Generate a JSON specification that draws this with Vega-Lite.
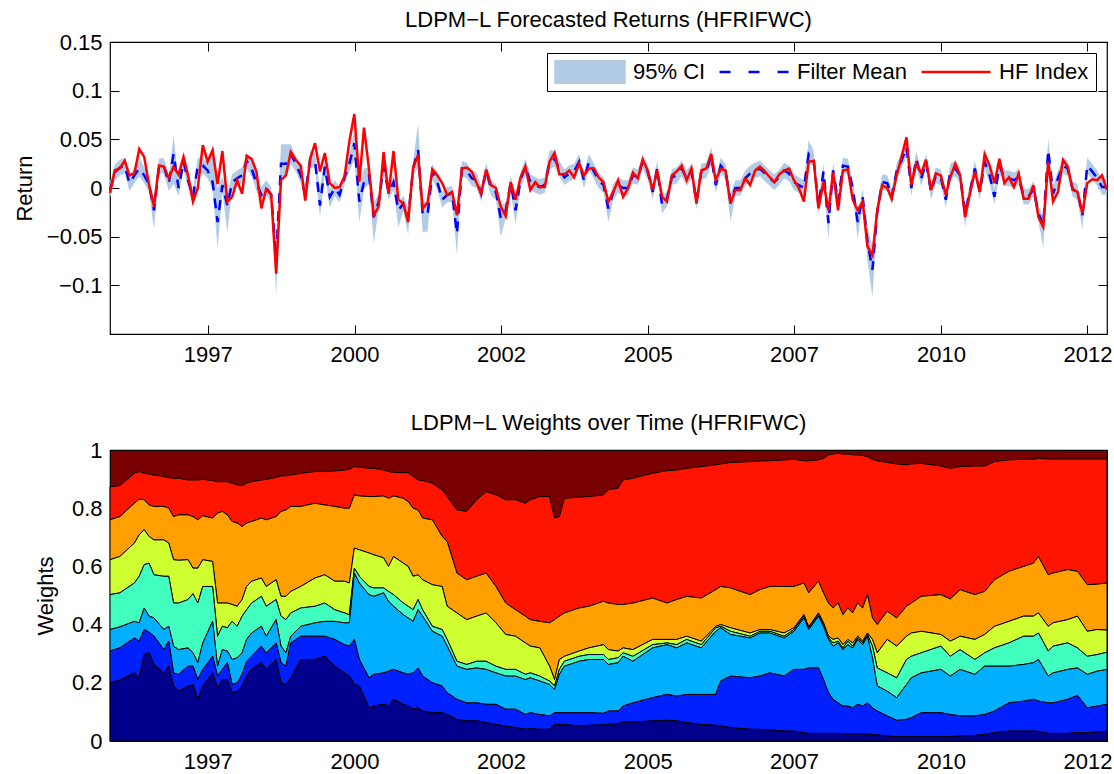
{
  "$schema": "https://vega.github.io/schema/vega-lite/v6.json",
  "padding": {"left": 12, "top": 8, "right": 9, "bottom": 5},
  "spacing": 45,
  "config": {
    "font": "Liberation Sans",
    "view": {"stroke": "black", "strokeWidth": 1.2},
    "axis": {
      "labelFont": "Liberation Sans", "labelFontSize": 22, "labelColor": "black",
      "titleFont": "Liberation Sans", "titleFontSize": 22, "titleFontWeight": "normal", "titleColor": "black",
      "grid": false, "domain": false, "tickColor": "black", "tickWidth": 1,
      "labelFlush": false, "labelOverlap": false
    },
    "title": {"font": "Liberation Sans", "fontSize": 22, "fontWeight": "normal", "color": "black", "baseline": "alphabetic"}
  },
  "datasets": {
    "ret": [
      {"d":"1995-10-31","m":-0.002,"r":-0.005,"lo":-0.01,"hi":0.006},
      {"d":"1995-11-30","m":0.016,"r":0.018,"lo":0.008,"hi":0.024},
      {"d":"1995-12-31","m":0.021,"r":0.02,"lo":0.013,"hi":0.029},
      {"d":"1996-01-31","m":0.023,"r":0.028,"lo":0.015,"hi":0.031},
      {"d":"1996-02-29","m":0.005,"r":0.013,"lo":-0.003,"hi":0.013},
      {"d":"1996-03-31","m":0.013,"r":0.015,"lo":0.005,"hi":0.021},
      {"d":"1996-04-30","m":0.02,"r":0.04,"lo":0.012,"hi":0.032},
      {"d":"1996-05-31","m":0.013,"r":0.032,"lo":0.005,"hi":0.021},
      {"d":"1996-06-30","m":0.004,"r":0.003,"lo":-0.004,"hi":0.012},
      {"d":"1996-07-31","m":-0.023,"r":-0.019,"lo":-0.042,"hi":-0.012},
      {"d":"1996-08-31","m":0.022,"r":0.023,"lo":0.014,"hi":0.03},
      {"d":"1996-09-30","m":0.023,"r":0.022,"lo":0.015,"hi":0.031},
      {"d":"1996-10-31","m":0.005,"r":0.01,"lo":-0.003,"hi":0.013},
      {"d":"1996-11-30","m":0.035,"r":0.022,"lo":0.004,"hi":0.054},
      {"d":"1996-12-31","m":0,"r":0.014,"lo":-0.008,"hi":0.008},
      {"d":"1997-01-31","m":0.027,"r":0.032,"lo":0.019,"hi":0.035},
      {"d":"1997-02-28","m":0.008,"r":0.013,"lo":0,"hi":0.016},
      {"d":"1997-03-31","m":-0.009,"r":-0.014,"lo":-0.017,"hi":-0.001},
      {"d":"1997-04-30","m":0.023,"r":0,"lo":0.015,"hi":0.031},
      {"d":"1997-05-31","m":0.023,"r":0.044,"lo":0.015,"hi":0.031},
      {"d":"1997-06-30","m":0.018,"r":0.027,"lo":0.01,"hi":0.026},
      {"d":"1997-07-31","m":0.006,"r":0.039,"lo":-0.002,"hi":0.04},
      {"d":"1997-08-31","m":-0.035,"r":0.004,"lo":-0.062,"hi":0},
      {"d":"1997-09-30","m":0.003,"r":0.038,"lo":-0.005,"hi":0.011},
      {"d":"1997-10-31","m":-0.018,"r":-0.014,"lo":-0.045,"hi":-0.005},
      {"d":"1997-11-30","m":0.006,"r":-0.009,"lo":-0.002,"hi":0.014},
      {"d":"1997-12-31","m":0.01,"r":0.008,"lo":0.002,"hi":0.018},
      {"d":"1998-01-31","m":0.013,"r":-0.006,"lo":0.005,"hi":0.021},
      {"d":"1998-02-28","m":0.028,"r":0.033,"lo":0.02,"hi":0.036},
      {"d":"1998-03-31","m":0.02,"r":0.03,"lo":0.012,"hi":0.028},
      {"d":"1998-04-30","m":0.005,"r":0.017,"lo":-0.003,"hi":0.013},
      {"d":"1998-05-31","m":-0.007,"r":-0.021,"lo":-0.015,"hi":0.001},
      {"d":"1998-06-30","m":0,"r":-0.001,"lo":-0.008,"hi":0.008},
      {"d":"1998-07-31","m":-0.007,"r":-0.007,"lo":-0.015,"hi":0.001},
      {"d":"1998-08-31","m":-0.072,"r":-0.088,"lo":-0.11,"hi":-0.06},
      {"d":"1998-09-30","m":0.025,"r":0.008,"lo":0.012,"hi":0.045},
      {"d":"1998-10-31","m":0.025,"r":0.013,"lo":0.012,"hi":0.045},
      {"d":"1998-11-30","m":0.035,"r":0.037,"lo":0.025,"hi":0.045},
      {"d":"1998-12-31","m":0.025,"r":0.029,"lo":0.017,"hi":0.033},
      {"d":"1999-01-31","m":0.013,"r":0.023,"lo":0.005,"hi":0.021},
      {"d":"1999-02-28","m":-0.007,"r":-0.013,"lo":-0.015,"hi":0.001},
      {"d":"1999-03-31","m":0.03,"r":0.03,"lo":0.022,"hi":0.038},
      {"d":"1999-04-30","m":0.028,"r":0.046,"lo":0.02,"hi":0.036},
      {"d":"1999-05-31","m":-0.018,"r":0.017,"lo":-0.03,"hi":0},
      {"d":"1999-06-30","m":0.022,"r":0.036,"lo":0.014,"hi":0.03},
      {"d":"1999-07-31","m":-0.009,"r":0.005,"lo":-0.02,"hi":-0.001},
      {"d":"1999-08-31","m":0,"r":0,"lo":-0.008,"hi":0.008},
      {"d":"1999-09-30","m":-0.007,"r":0.001,"lo":-0.015,"hi":0.001},
      {"d":"1999-10-31","m":0.011,"r":0.012,"lo":0.003,"hi":0.019},
      {"d":"1999-11-30","m":0.025,"r":0.048,"lo":0.017,"hi":0.033},
      {"d":"1999-12-31","m":0.046,"r":0.076,"lo":0.03,"hi":0.06},
      {"d":"2000-01-31","m":-0.014,"r":0.006,"lo":-0.035,"hi":0},
      {"d":"2000-02-29","m":0.006,"r":0.062,"lo":-0.002,"hi":0.02},
      {"d":"2000-03-31","m":0.013,"r":0.02,"lo":0.005,"hi":0.021},
      {"d":"2000-04-30","m":-0.03,"r":-0.028,"lo":-0.057,"hi":-0.015},
      {"d":"2000-05-31","m":-0.014,"r":-0.019,"lo":-0.022,"hi":-0.006},
      {"d":"2000-06-30","m":0.022,"r":0.037,"lo":0.014,"hi":0.03},
      {"d":"2000-07-31","m":-0.004,"r":-0.006,"lo":-0.012,"hi":0.004},
      {"d":"2000-08-31","m":0.006,"r":0.038,"lo":-0.002,"hi":0.014},
      {"d":"2000-09-30","m":-0.023,"r":-0.012,"lo":-0.04,"hi":-0.015},
      {"d":"2000-10-31","m":-0.016,"r":-0.016,"lo":-0.024,"hi":-0.008},
      {"d":"2000-11-30","m":-0.031,"r":-0.035,"lo":-0.048,"hi":-0.02},
      {"d":"2000-12-31","m":0.02,"r":0.021,"lo":0.012,"hi":0.028},
      {"d":"2001-01-31","m":0.039,"r":0.034,"lo":0.02,"hi":0.066},
      {"d":"2001-02-28","m":-0.026,"r":-0.021,"lo":-0.045,"hi":-0.012},
      {"d":"2001-03-31","m":-0.028,"r":-0.015,"lo":-0.045,"hi":-0.015},
      {"d":"2001-04-30","m":0.017,"r":0.019,"lo":0.009,"hi":0.025},
      {"d":"2001-05-31","m":0.006,"r":0.013,"lo":-0.002,"hi":0.014},
      {"d":"2001-06-30","m":-0.012,"r":0.005,"lo":-0.02,"hi":-0.004},
      {"d":"2001-07-31","m":-0.007,"r":-0.007,"lo":-0.015,"hi":0.001},
      {"d":"2001-08-31","m":-0.006,"r":-0.004,"lo":-0.014,"hi":0.002},
      {"d":"2001-09-30","m":-0.047,"r":-0.028,"lo":-0.069,"hi":-0.03},
      {"d":"2001-10-31","m":0.02,"r":0.02,"lo":0.012,"hi":0.028},
      {"d":"2001-11-30","m":0.018,"r":0.021,"lo":0.01,"hi":0.026},
      {"d":"2001-12-31","m":0.01,"r":0.017,"lo":0.002,"hi":0.018},
      {"d":"2002-01-31","m":0.008,"r":0.005,"lo":0,"hi":0.016},
      {"d":"2002-02-28","m":-0.006,"r":-0.006,"lo":-0.014,"hi":0.002},
      {"d":"2002-03-31","m":0.018,"r":0.019,"lo":0.01,"hi":0.026},
      {"d":"2002-04-30","m":0,"r":0.003,"lo":-0.008,"hi":0.008},
      {"d":"2002-05-31","m":-0.004,"r":0,"lo":-0.012,"hi":0.004},
      {"d":"2002-06-30","m":-0.031,"r":-0.019,"lo":-0.05,"hi":-0.018},
      {"d":"2002-07-31","m":-0.023,"r":-0.029,"lo":-0.031,"hi":-0.015},
      {"d":"2002-08-31","m":0.005,"r":0.006,"lo":-0.003,"hi":0.013},
      {"d":"2002-09-30","m":-0.023,"r":-0.012,"lo":-0.038,"hi":-0.012},
      {"d":"2002-10-31","m":0.008,"r":0.011,"lo":0,"hi":0.016},
      {"d":"2002-11-30","m":0.022,"r":0.022,"lo":0.012,"hi":0.03},
      {"d":"2002-12-31","m":0.006,"r":-0.002,"lo":-0.002,"hi":0.014},
      {"d":"2003-01-31","m":0.003,"r":0.006,"lo":-0.005,"hi":0.011},
      {"d":"2003-02-28","m":0.001,"r":0.001,"lo":-0.007,"hi":0.009},
      {"d":"2003-03-31","m":0.003,"r":0.001,"lo":-0.005,"hi":0.011},
      {"d":"2003-04-30","m":0.027,"r":0.027,"lo":0.019,"hi":0.039},
      {"d":"2003-05-31","m":0.03,"r":0.036,"lo":0.022,"hi":0.038},
      {"d":"2003-06-30","m":0.02,"r":0.014,"lo":0.012,"hi":0.028},
      {"d":"2003-07-31","m":0.011,"r":0.014,"lo":0.003,"hi":0.019},
      {"d":"2003-08-31","m":0.015,"r":0.018,"lo":0.007,"hi":0.023},
      {"d":"2003-09-30","m":0.017,"r":0.011,"lo":0.009,"hi":0.025},
      {"d":"2003-10-31","m":0.027,"r":0.025,"lo":0.019,"hi":0.035},
      {"d":"2003-11-30","m":0.008,"r":0.013,"lo":0,"hi":0.016},
      {"d":"2003-12-31","m":0.027,"r":0.02,"lo":0.019,"hi":0.035},
      {"d":"2004-01-31","m":0.017,"r":0.02,"lo":0.009,"hi":0.025},
      {"d":"2004-02-29","m":0.008,"r":0.011,"lo":0,"hi":0.016},
      {"d":"2004-03-31","m":0.003,"r":0.006,"lo":-0.005,"hi":0.011},
      {"d":"2004-04-30","m":-0.021,"r":-0.014,"lo":-0.035,"hi":-0.013},
      {"d":"2004-05-31","m":-0.004,"r":-0.004,"lo":-0.012,"hi":0.004},
      {"d":"2004-06-30","m":0.003,"r":0.008,"lo":-0.005,"hi":0.011},
      {"d":"2004-07-31","m":0,"r":-0.009,"lo":-0.008,"hi":0.008},
      {"d":"2004-08-31","m":0,"r":0,"lo":-0.008,"hi":0.008},
      {"d":"2004-09-30","m":0.013,"r":0.016,"lo":0.005,"hi":0.021},
      {"d":"2004-10-31","m":0.011,"r":0.01,"lo":0.003,"hi":0.019},
      {"d":"2004-11-30","m":0.027,"r":0.029,"lo":0.019,"hi":0.035},
      {"d":"2004-12-31","m":0.017,"r":0.018,"lo":0.009,"hi":0.025},
      {"d":"2005-01-31","m":-0.004,"r":-0.002,"lo":-0.012,"hi":0.004},
      {"d":"2005-02-28","m":0.02,"r":0.018,"lo":0.012,"hi":0.028},
      {"d":"2005-03-31","m":-0.018,"r":-0.009,"lo":-0.026,"hi":-0.01},
      {"d":"2005-04-30","m":-0.011,"r":-0.014,"lo":-0.019,"hi":-0.003},
      {"d":"2005-05-31","m":0.011,"r":0.013,"lo":0.003,"hi":0.019},
      {"d":"2005-06-30","m":0.013,"r":0.017,"lo":0.005,"hi":0.021},
      {"d":"2005-07-31","m":0.02,"r":0.023,"lo":0.012,"hi":0.028},
      {"d":"2005-08-31","m":0.01,"r":0.008,"lo":0.002,"hi":0.018},
      {"d":"2005-09-30","m":0.017,"r":0.02,"lo":0.009,"hi":0.025},
      {"d":"2005-10-31","m":-0.014,"r":-0.016,"lo":-0.022,"hi":-0.006},
      {"d":"2005-11-30","m":0.017,"r":0.018,"lo":0.009,"hi":0.025},
      {"d":"2005-12-31","m":0.018,"r":0.02,"lo":0.01,"hi":0.026},
      {"d":"2006-01-31","m":0.032,"r":0.035,"lo":0.024,"hi":0.042},
      {"d":"2006-02-28","m":0.003,"r":0.008,"lo":-0.005,"hi":0.011},
      {"d":"2006-03-31","m":0.023,"r":0.02,"lo":0.015,"hi":0.031},
      {"d":"2006-04-30","m":0.017,"r":0.018,"lo":0.009,"hi":0.025},
      {"d":"2006-05-31","m":-0.014,"r":-0.016,"lo":-0.035,"hi":-0.006},
      {"d":"2006-06-30","m":0,"r":-0.002,"lo":-0.008,"hi":0.008},
      {"d":"2006-07-31","m":0,"r":-0.002,"lo":-0.008,"hi":0.008},
      {"d":"2006-08-31","m":0.01,"r":0.01,"lo":0.002,"hi":0.018},
      {"d":"2006-09-30","m":0.015,"r":0.003,"lo":0.007,"hi":0.023},
      {"d":"2006-10-31","m":0.018,"r":0.018,"lo":0.01,"hi":0.026},
      {"d":"2006-11-30","m":0.02,"r":0.022,"lo":0.012,"hi":0.028},
      {"d":"2006-12-31","m":0.015,"r":0.017,"lo":0.007,"hi":0.023},
      {"d":"2007-01-31","m":0.01,"r":0.011,"lo":0.002,"hi":0.018},
      {"d":"2007-02-28","m":0.006,"r":0.006,"lo":-0.002,"hi":0.014},
      {"d":"2007-03-31","m":0.011,"r":0.014,"lo":0.003,"hi":0.019},
      {"d":"2007-04-30","m":0.018,"r":0.018,"lo":0.01,"hi":0.026},
      {"d":"2007-05-31","m":0.015,"r":0.02,"lo":0.007,"hi":0.023},
      {"d":"2007-06-30","m":0.006,"r":0.008,"lo":-0.002,"hi":0.014},
      {"d":"2007-07-31","m":0.003,"r":0,"lo":-0.005,"hi":0.011},
      {"d":"2007-08-31","m":0,"r":-0.014,"lo":-0.008,"hi":0.008},
      {"d":"2007-09-30","m":0.035,"r":0.027,"lo":0.025,"hi":0.049},
      {"d":"2007-10-31","m":0.03,"r":0.028,"lo":0.022,"hi":0.038},
      {"d":"2007-11-30","m":-0.019,"r":-0.021,"lo":-0.027,"hi":-0.011},
      {"d":"2007-12-31","m":0.017,"r":0.006,"lo":0.009,"hi":0.025},
      {"d":"2008-01-31","m":-0.036,"r":-0.023,"lo":-0.052,"hi":-0.028},
      {"d":"2008-02-29","m":0.018,"r":0.016,"lo":0.01,"hi":0.026},
      {"d":"2008-03-31","m":-0.014,"r":-0.023,"lo":-0.022,"hi":-0.006},
      {"d":"2008-04-30","m":0.023,"r":0.018,"lo":0.015,"hi":0.031},
      {"d":"2008-05-31","m":0.022,"r":0.019,"lo":0.014,"hi":0.03},
      {"d":"2008-06-30","m":0,"r":-0.012,"lo":-0.008,"hi":0.008},
      {"d":"2008-07-31","m":-0.035,"r":-0.023,"lo":-0.052,"hi":-0.027},
      {"d":"2008-08-31","m":-0.009,"r":-0.014,"lo":-0.017,"hi":-0.001},
      {"d":"2008-09-30","m":-0.055,"r":-0.06,"lo":-0.075,"hi":-0.04},
      {"d":"2008-10-31","m":-0.084,"r":-0.069,"lo":-0.112,"hi":-0.06},
      {"d":"2008-11-30","m":-0.024,"r":-0.023,"lo":-0.034,"hi":-0.014},
      {"d":"2008-12-31","m":0.006,"r":0.003,"lo":-0.002,"hi":0.014},
      {"d":"2009-01-31","m":0.005,"r":0,"lo":-0.003,"hi":0.013},
      {"d":"2009-02-28","m":-0.009,"r":-0.011,"lo":-0.017,"hi":-0.001},
      {"d":"2009-03-31","m":0.017,"r":0.013,"lo":0.009,"hi":0.025},
      {"d":"2009-04-30","m":0.028,"r":0.032,"lo":0.02,"hi":0.036},
      {"d":"2009-05-31","m":0.042,"r":0.052,"lo":0.032,"hi":0.055},
      {"d":"2009-06-30","m":0,"r":0.003,"lo":-0.008,"hi":0.008},
      {"d":"2009-07-31","m":0.03,"r":0.025,"lo":0.022,"hi":0.038},
      {"d":"2009-08-31","m":0.01,"r":0.015,"lo":0.002,"hi":0.018},
      {"d":"2009-09-30","m":0.027,"r":0.029,"lo":0.019,"hi":0.035},
      {"d":"2009-10-31","m":-0.004,"r":-0.002,"lo":-0.012,"hi":0.004},
      {"d":"2009-11-30","m":0.013,"r":0.015,"lo":0.005,"hi":0.021},
      {"d":"2009-12-31","m":0.011,"r":0.013,"lo":0.003,"hi":0.019},
      {"d":"2010-01-31","m":-0.012,"r":-0.007,"lo":-0.02,"hi":-0.004},
      {"d":"2010-02-28","m":0.017,"r":0.011,"lo":0.009,"hi":0.025},
      {"d":"2010-03-31","m":0.02,"r":0.025,"lo":0.012,"hi":0.028},
      {"d":"2010-04-30","m":0.013,"r":0.013,"lo":0.005,"hi":0.021},
      {"d":"2010-05-31","m":-0.026,"r":-0.03,"lo":-0.04,"hi":-0.018},
      {"d":"2010-06-30","m":-0.004,"r":-0.006,"lo":-0.012,"hi":0.004},
      {"d":"2010-07-31","m":0.02,"r":0.017,"lo":0.012,"hi":0.028},
      {"d":"2010-08-31","m":-0.004,"r":-0.004,"lo":-0.012,"hi":0.004},
      {"d":"2010-09-30","m":0.027,"r":0.035,"lo":0.019,"hi":0.035},
      {"d":"2010-10-31","m":0.013,"r":0.023,"lo":0.005,"hi":0.021},
      {"d":"2010-11-30","m":-0.009,"r":0.005,"lo":-0.017,"hi":-0.001},
      {"d":"2010-12-31","m":0.023,"r":0.03,"lo":0.015,"hi":0.031},
      {"d":"2011-01-31","m":0.01,"r":0.005,"lo":0.002,"hi":0.018},
      {"d":"2011-02-28","m":0.01,"r":0.011,"lo":0.002,"hi":0.018},
      {"d":"2011-03-31","m":0.008,"r":0.001,"lo":0,"hi":0.016},
      {"d":"2011-04-30","m":0.011,"r":0.015,"lo":0.003,"hi":0.019},
      {"d":"2011-05-31","m":-0.009,"r":-0.011,"lo":-0.017,"hi":-0.001},
      {"d":"2011-06-30","m":-0.009,"r":-0.011,"lo":-0.017,"hi":-0.001},
      {"d":"2011-07-31","m":-0.001,"r":0.003,"lo":-0.009,"hi":0.007},
      {"d":"2011-08-31","m":-0.026,"r":-0.03,"lo":-0.034,"hi":-0.018},
      {"d":"2011-09-30","m":-0.038,"r":-0.04,"lo":-0.062,"hi":-0.03},
      {"d":"2011-10-31","m":0.039,"r":0.027,"lo":0.029,"hi":0.051},
      {"d":"2011-11-30","m":-0.006,"r":-0.014,"lo":-0.014,"hi":0.002},
      {"d":"2011-12-31","m":0.01,"r":-0.004,"lo":0.002,"hi":0.018},
      {"d":"2012-01-31","m":0.023,"r":0.029,"lo":0.015,"hi":0.031},
      {"d":"2012-02-29","m":0.02,"r":0.022,"lo":0.012,"hi":0.028},
      {"d":"2012-03-31","m":-0.001,"r":-0.002,"lo":-0.009,"hi":0.007},
      {"d":"2012-04-30","m":-0.004,"r":-0.004,"lo":-0.012,"hi":0.004},
      {"d":"2012-05-31","m":-0.028,"r":-0.026,"lo":-0.043,"hi":-0.02},
      {"d":"2012-06-30","m":0.023,"r":0.005,"lo":0.015,"hi":0.031},
      {"d":"2012-07-31","m":0.017,"r":0.009,"lo":0.009,"hi":0.025},
      {"d":"2012-08-31","m":0.01,"r":0.008,"lo":0.002,"hi":0.018},
      {"d":"2012-09-30","m":0.001,"r":0.013,"lo":-0.007,"hi":0.009},
      {"d":"2012-10-31","m":0.001,"r":-0.002,"lo":-0.007,"hi":0.009}
    ],
    "wts": [
      {"d":"1995-10-31","b1":0.2,"b2":0.309,"b3":0.383,"b4":0.503,"b5":0.623,"b6":0.76,"b7":0.874},
      {"d":"1995-12-31","b1":0.209,"b2":0.32,"b3":0.392,"b4":0.509,"b5":0.634,"b6":0.771,"b7":0.877},
      {"d":"1996-03-31","b1":0.234,"b2":0.354,"b3":0.411,"b4":0.543,"b5":0.68,"b6":0.817,"b7":0.92},
      {"d":"1996-04-30","b1":0.217,"b2":0.343,"b3":0.406,"b4":0.566,"b5":0.709,"b6":0.831,"b7":0.926},
      {"d":"1996-05-31","b1":0.297,"b2":0.383,"b3":0.457,"b4":0.606,"b5":0.726,"b6":0.829,"b7":0.92},
      {"d":"1996-06-30","b1":0.303,"b2":0.374,"b3":0.429,"b4":0.611,"b5":0.703,"b6":0.811,"b7":0.917},
      {"d":"1996-07-31","b1":0.263,"b2":0.36,"b3":0.423,"b4":0.571,"b5":0.691,"b6":0.806,"b7":0.914},
      {"d":"1996-09-30","b1":0.234,"b2":0.314,"b3":0.383,"b4":0.566,"b5":0.691,"b6":0.806,"b7":0.909},
      {"d":"1996-10-31","b1":0.257,"b2":0.343,"b3":0.394,"b4":0.566,"b5":0.68,"b6":0.8,"b7":0.905},
      {"d":"1996-11-30","b1":0.189,"b2":0.234,"b3":0.326,"b4":0.474,"b5":0.623,"b6":0.771,"b7":0.903},
      {"d":"1996-12-31","b1":0.171,"b2":0.229,"b3":0.314,"b4":0.474,"b5":0.621,"b6":0.777,"b7":0.903},
      {"d":"1997-02-28","b1":0.189,"b2":0.257,"b3":0.32,"b4":0.486,"b5":0.623,"b6":0.777,"b7":0.897},
      {"d":"1997-03-31","b1":0.194,"b2":0.257,"b3":0.303,"b4":0.506,"b5":0.594,"b6":0.771,"b7":0.897},
      {"d":"1997-04-30","b1":0.143,"b2":0.211,"b3":0.269,"b4":0.474,"b5":0.594,"b6":0.76,"b7":0.897},
      {"d":"1997-05-31","b1":0.189,"b2":0.246,"b3":0.337,"b4":0.531,"b5":0.623,"b6":0.774,"b7":0.899},
      {"d":"1997-07-31","b1":0.234,"b2":0.291,"b3":0.411,"b4":0.531,"b5":0.617,"b6":0.766,"b7":0.895},
      {"d":"1997-08-31","b1":0.183,"b2":0.223,"b3":0.257,"b4":0.36,"b5":0.474,"b6":0.783,"b7":0.891},
      {"d":"1997-09-30","b1":0.211,"b2":0.246,"b3":0.314,"b4":0.394,"b5":0.474,"b6":0.789,"b7":0.891},
      {"d":"1997-10-31","b1":0.211,"b2":0.269,"b3":0.309,"b4":0.389,"b5":0.474,"b6":0.777,"b7":0.891},
      {"d":"1997-11-30","b1":0.166,"b2":0.194,"b3":0.28,"b4":0.411,"b5":0.469,"b6":0.754,"b7":0.886},
      {"d":"1997-12-31","b1":0.171,"b2":0.2,"b3":0.286,"b4":0.394,"b5":0.463,"b6":0.749,"b7":0.88},
      {"d":"1998-01-31","b1":0.189,"b2":0.229,"b3":0.303,"b4":0.429,"b5":0.486,"b6":0.737,"b7":0.877},
      {"d":"1998-02-28","b1":0.223,"b2":0.274,"b3":0.349,"b4":0.451,"b5":0.531,"b6":0.749,"b7":0.886},
      {"d":"1998-03-31","b1":0.246,"b2":0.291,"b3":0.371,"b4":0.474,"b5":0.549,"b6":0.754,"b7":0.891},
      {"d":"1998-05-31","b1":0.269,"b2":0.326,"b3":0.394,"b4":0.497,"b5":0.56,"b6":0.766,"b7":0.897},
      {"d":"1998-06-30","b1":0.246,"b2":0.303,"b3":0.36,"b4":0.463,"b5":0.531,"b6":0.76,"b7":0.899},
      {"d":"1998-08-31","b1":0.28,"b2":0.337,"b3":0.417,"b4":0.486,"b5":0.554,"b6":0.771,"b7":0.906},
      {"d":"1998-09-30","b1":0.2,"b2":0.269,"b3":0.326,"b4":0.429,"b5":0.497,"b6":0.789,"b7":0.911},
      {"d":"1998-10-31","b1":0.194,"b2":0.257,"b3":0.303,"b4":0.417,"b5":0.497,"b6":0.794,"b7":0.911},
      {"d":"1998-11-30","b1":0.217,"b2":0.337,"b3":0.36,"b4":0.44,"b5":0.514,"b6":0.806,"b7":0.914},
      {"d":"1999-01-31","b1":0.28,"b2":0.36,"b3":0.394,"b4":0.457,"b5":0.531,"b6":0.806,"b7":0.92},
      {"d":"1999-04-30","b1":0.28,"b2":0.36,"b3":0.406,"b4":0.463,"b5":0.56,"b6":0.817,"b7":0.926},
      {"d":"1999-06-30","b1":0.291,"b2":0.36,"b3":0.411,"b4":0.474,"b5":0.571,"b6":0.811,"b7":0.926},
      {"d":"1999-08-31","b1":0.257,"b2":0.349,"b3":0.411,"b4":0.451,"b5":0.549,"b6":0.806,"b7":0.928},
      {"d":"1999-10-31","b1":0.234,"b2":0.331,"b3":0.406,"b4":0.44,"b5":0.549,"b6":0.8,"b7":0.931},
      {"d":"1999-11-30","b1":0.223,"b2":0.326,"b3":0.406,"b4":0.434,"b5":0.543,"b6":0.8,"b7":0.934},
      {"d":"1999-12-31","b1":0.194,"b2":0.349,"b3":0.577,"b4":0.594,"b5":0.663,"b6":0.846,"b7":0.943},
      {"d":"2000-01-31","b1":0.189,"b2":0.28,"b3":0.543,"b4":0.566,"b5":0.657,"b6":0.842,"b7":0.941},
      {"d":"2000-03-31","b1":0.114,"b2":0.217,"b3":0.503,"b4":0.531,"b5":0.646,"b6":0.84,"b7":0.937},
      {"d":"2000-04-30","b1":0.12,"b2":0.229,"b3":0.497,"b4":0.526,"b5":0.64,"b6":0.84,"b7":0.937},
      {"d":"2000-06-30","b1":0.126,"b2":0.234,"b3":0.509,"b4":0.526,"b5":0.629,"b6":0.842,"b7":0.931},
      {"d":"2000-07-31","b1":0.12,"b2":0.24,"b3":0.48,"b4":0.514,"b5":0.6,"b6":0.834,"b7":0.926},
      {"d":"2000-08-31","b1":0.143,"b2":0.246,"b3":0.463,"b4":0.503,"b5":0.634,"b6":0.842,"b7":0.923},
      {"d":"2000-10-31","b1":0.126,"b2":0.234,"b3":0.434,"b4":0.474,"b5":0.611,"b6":0.834,"b7":0.922},
      {"d":"2000-11-30","b1":0.12,"b2":0.229,"b3":0.423,"b4":0.463,"b5":0.6,"b6":0.823,"b7":0.922},
      {"d":"2000-12-31","b1":0.109,"b2":0.234,"b3":0.411,"b4":0.451,"b5":0.566,"b6":0.8,"b7":0.909},
      {"d":"2001-01-31","b1":0.114,"b2":0.251,"b3":0.451,"b4":0.486,"b5":0.571,"b6":0.794,"b7":0.897},
      {"d":"2001-02-28","b1":0.103,"b2":0.223,"b3":0.429,"b4":0.451,"b5":0.554,"b6":0.766,"b7":0.895},
      {"d":"2001-04-30","b1":0.097,"b2":0.2,"b3":0.377,"b4":0.394,"b5":0.537,"b6":0.76,"b7":0.886},
      {"d":"2001-06-30","b1":0.097,"b2":0.189,"b3":0.36,"b4":0.383,"b5":0.531,"b6":0.703,"b7":0.863},
      {"d":"2001-07-31","b1":0.091,"b2":0.166,"b3":0.326,"b4":0.349,"b5":0.463,"b6":0.686,"b7":0.84},
      {"d":"2001-09-30","b1":0.074,"b2":0.143,"b3":0.257,"b4":0.274,"b5":0.44,"b6":0.577,"b7":0.794},
      {"d":"2001-11-30","b1":0.069,"b2":0.131,"b3":0.246,"b4":0.263,"b5":0.417,"b6":0.554,"b7":0.789},
      {"d":"2002-01-31","b1":0.069,"b2":0.131,"b3":0.251,"b4":0.274,"b5":0.429,"b6":0.566,"b7":0.829},
      {"d":"2002-03-31","b1":0.063,"b2":0.126,"b3":0.246,"b4":0.274,"b5":0.44,"b6":0.577,"b7":0.857},
      {"d":"2002-05-31","b1":0.057,"b2":0.126,"b3":0.234,"b4":0.257,"b5":0.406,"b6":0.531,"b7":0.846},
      {"d":"2002-07-31","b1":0.051,"b2":0.109,"b3":0.223,"b4":0.246,"b5":0.366,"b6":0.474,"b7":0.829},
      {"d":"2002-09-30","b1":0.046,"b2":0.109,"b3":0.223,"b4":0.246,"b5":0.36,"b6":0.451,"b7":0.829},
      {"d":"2002-11-30","b1":0.04,"b2":0.091,"b3":0.211,"b4":0.229,"b5":0.337,"b6":0.429,"b7":0.817},
      {"d":"2002-12-31","b1":0.042,"b2":0.097,"b3":0.217,"b4":0.234,"b5":0.326,"b6":0.417,"b7":0.829},
      {"d":"2003-02-28","b1":0.04,"b2":0.091,"b3":0.206,"b4":0.223,"b5":0.32,"b6":0.411,"b7":0.84},
      {"d":"2003-04-30","b1":0.04,"b2":0.086,"b3":0.194,"b4":0.206,"b5":0.257,"b6":0.406,"b7":0.84},
      {"d":"2003-05-31","b1":0.057,"b2":0.097,"b3":0.177,"b4":0.189,"b5":0.211,"b6":0.417,"b7":0.766},
      {"d":"2003-06-30","b1":0.057,"b2":0.097,"b3":0.229,"b4":0.246,"b5":0.28,"b6":0.429,"b7":0.771},
      {"d":"2003-07-31","b1":0.057,"b2":0.097,"b3":0.257,"b4":0.274,"b5":0.291,"b6":0.44,"b7":0.834},
      {"d":"2003-10-31","b1":0.051,"b2":0.097,"b3":0.274,"b4":0.291,"b5":0.309,"b6":0.457,"b7":0.838},
      {"d":"2003-12-31","b1":0.054,"b2":0.097,"b3":0.28,"b4":0.297,"b5":0.32,"b6":0.463,"b7":0.84},
      {"d":"2004-03-31","b1":0.055,"b2":0.095,"b3":0.28,"b4":0.297,"b5":0.331,"b6":0.48,"b7":0.846},
      {"d":"2004-04-30","b1":0.057,"b2":0.103,"b3":0.263,"b4":0.28,"b5":0.314,"b6":0.474,"b7":0.863},
      {"d":"2004-06-30","b1":0.059,"b2":0.103,"b3":0.269,"b4":0.286,"b5":0.309,"b6":0.469,"b7":0.869},
      {"d":"2004-07-31","b1":0.065,"b2":0.12,"b3":0.291,"b4":0.303,"b5":0.32,"b6":0.469,"b7":0.897},
      {"d":"2004-09-30","b1":0.065,"b2":0.131,"b3":0.274,"b4":0.291,"b5":0.314,"b6":0.474,"b7":0.903},
      {"d":"2005-01-31","b1":0.069,"b2":0.149,"b3":0.32,"b4":0.331,"b5":0.349,"b6":0.491,"b7":0.92},
      {"d":"2005-04-30","b1":0.071,"b2":0.16,"b3":0.331,"b4":0.337,"b5":0.349,"b6":0.474,"b7":0.929},
      {"d":"2005-06-30","b1":0.069,"b2":0.154,"b3":0.32,"b4":0.331,"b5":0.349,"b6":0.486,"b7":0.931},
      {"d":"2005-08-31","b1":0.063,"b2":0.16,"b3":0.337,"b4":0.349,"b5":0.36,"b6":0.497,"b7":0.937},
      {"d":"2005-11-30","b1":0.057,"b2":0.16,"b3":0.32,"b4":0.331,"b5":0.343,"b6":0.491,"b7":0.943},
      {"d":"2006-02-28","b1":0.054,"b2":0.16,"b3":0.377,"b4":0.389,"b5":0.394,"b6":0.52,"b7":0.949},
      {"d":"2006-03-31","b1":0.051,"b2":0.206,"b3":0.389,"b4":0.394,"b5":0.4,"b6":0.531,"b7":0.952},
      {"d":"2006-05-31","b1":0.046,"b2":0.223,"b3":0.366,"b4":0.377,"b5":0.389,"b6":0.526,"b7":0.957},
      {"d":"2006-09-30","b1":0.04,"b2":0.217,"b3":0.354,"b4":0.36,"b5":0.371,"b6":0.503,"b7":0.96},
      {"d":"2006-11-30","b1":0.04,"b2":0.223,"b3":0.371,"b4":0.377,"b5":0.383,"b6":0.52,"b7":0.962},
      {"d":"2007-01-31","b1":0.038,"b2":0.234,"b3":0.371,"b4":0.377,"b5":0.383,"b6":0.531,"b7":0.963},
      {"d":"2007-04-30","b1":0.034,"b2":0.223,"b3":0.354,"b4":0.36,"b5":0.371,"b6":0.531,"b7":0.966},
      {"d":"2007-06-30","b1":0.034,"b2":0.246,"b3":0.377,"b4":0.383,"b5":0.389,"b6":0.531,"b7":0.968},
      {"d":"2007-08-31","b1":0.029,"b2":0.246,"b3":0.423,"b4":0.429,"b5":0.434,"b6":0.543,"b7":0.963},
      {"d":"2007-09-30","b1":0.026,"b2":0.251,"b3":0.383,"b4":0.389,"b5":0.392,"b6":0.509,"b7":0.963},
      {"d":"2007-11-30","b1":0.026,"b2":0.251,"b3":0.429,"b4":0.434,"b5":0.44,"b6":0.549,"b7":0.966},
      {"d":"2007-12-31","b1":0.026,"b2":0.211,"b3":0.394,"b4":0.4,"b5":0.406,"b6":0.509,"b7":0.971},
      {"d":"2008-01-31","b1":0.026,"b2":0.166,"b3":0.349,"b4":0.354,"b5":0.36,"b6":0.474,"b7":0.983},
      {"d":"2008-02-29","b1":0.026,"b2":0.143,"b3":0.326,"b4":0.337,"b5":0.349,"b6":0.457,"b7":0.986},
      {"d":"2008-03-31","b1":0.026,"b2":0.131,"b3":0.337,"b4":0.343,"b5":0.354,"b6":0.474,"b7":0.989},
      {"d":"2008-04-30","b1":0.025,"b2":0.12,"b3":0.314,"b4":0.32,"b5":0.331,"b6":0.434,"b7":0.986},
      {"d":"2008-05-31","b1":0.024,"b2":0.12,"b3":0.331,"b4":0.343,"b5":0.349,"b6":0.457,"b7":0.986},
      {"d":"2008-06-30","b1":0.024,"b2":0.114,"b3":0.32,"b4":0.326,"b5":0.337,"b6":0.44,"b7":0.983},
      {"d":"2008-07-31","b1":0.024,"b2":0.126,"b3":0.349,"b4":0.354,"b5":0.36,"b6":0.474,"b7":0.983},
      {"d":"2008-08-31","b1":0.024,"b2":0.12,"b3":0.331,"b4":0.337,"b5":0.343,"b6":0.457,"b7":0.981},
      {"d":"2008-09-30","b1":0.024,"b2":0.131,"b3":0.36,"b4":0.366,"b5":0.371,"b6":0.503,"b7":0.977},
      {"d":"2008-10-31","b1":0.022,"b2":0.114,"b3":0.286,"b4":0.326,"b5":0.349,"b6":0.423,"b7":0.968},
      {"d":"2008-11-30","b1":0.021,"b2":0.103,"b3":0.189,"b4":0.251,"b5":0.303,"b6":0.4,"b7":0.963},
      {"d":"2009-01-31","b1":0.017,"b2":0.086,"b3":0.171,"b4":0.234,"b5":0.349,"b6":0.446,"b7":0.957},
      {"d":"2009-03-31","b1":0.015,"b2":0.071,"b3":0.149,"b4":0.217,"b5":0.326,"b6":0.423,"b7":0.952},
      {"d":"2009-05-31","b1":0.015,"b2":0.074,"b3":0.194,"b4":0.28,"b5":0.36,"b6":0.463,"b7":0.949},
      {"d":"2009-06-30","b1":0.015,"b2":0.08,"b3":0.217,"b4":0.291,"b5":0.371,"b6":0.474,"b7":0.952},
      {"d":"2009-08-31","b1":0.015,"b2":0.097,"b3":0.234,"b4":0.303,"b5":0.377,"b6":0.497,"b7":0.954},
      {"d":"2009-12-31","b1":0.015,"b2":0.097,"b3":0.246,"b4":0.326,"b5":0.366,"b6":0.503,"b7":0.945},
      {"d":"2010-02-28","b1":0.015,"b2":0.091,"b3":0.223,"b4":0.291,"b5":0.343,"b6":0.488,"b7":0.937},
      {"d":"2010-04-30","b1":0.017,"b2":0.086,"b3":0.246,"b4":0.314,"b5":0.36,"b6":0.52,"b7":0.943},
      {"d":"2010-07-31","b1":0.019,"b2":0.086,"b3":0.229,"b4":0.28,"b5":0.349,"b6":0.503,"b7":0.945},
      {"d":"2010-09-30","b1":0.023,"b2":0.091,"b3":0.257,"b4":0.303,"b5":0.366,"b6":0.514,"b7":0.945},
      {"d":"2010-11-30","b1":0.029,"b2":0.103,"b3":0.257,"b4":0.32,"b5":0.394,"b6":0.554,"b7":0.96},
      {"d":"2011-02-28","b1":0.034,"b2":0.131,"b3":0.257,"b4":0.337,"b5":0.411,"b6":0.583,"b7":0.966},
      {"d":"2011-05-31","b1":0.034,"b2":0.137,"b3":0.263,"b4":0.36,"b5":0.429,"b6":0.6,"b7":0.968},
      {"d":"2011-07-31","b1":0.034,"b2":0.143,"b3":0.269,"b4":0.36,"b5":0.429,"b6":0.611,"b7":0.968},
      {"d":"2011-08-31","b1":0.033,"b2":0.137,"b3":0.28,"b4":0.371,"b5":0.44,"b6":0.634,"b7":0.971},
      {"d":"2011-10-31","b1":0.026,"b2":0.131,"b3":0.223,"b4":0.309,"b5":0.394,"b6":0.571,"b7":0.969},
      {"d":"2011-11-30","b1":0.026,"b2":0.131,"b3":0.234,"b4":0.326,"b5":0.406,"b6":0.577,"b7":0.969},
      {"d":"2012-02-29","b1":0.026,"b2":0.143,"b3":0.246,"b4":0.337,"b5":0.417,"b6":0.589,"b7":0.969},
      {"d":"2012-04-30","b1":0.029,"b2":0.157,"b3":0.251,"b4":0.32,"b5":0.429,"b6":0.583,"b7":0.969},
      {"d":"2012-06-30","b1":0.029,"b2":0.114,"b3":0.229,"b4":0.291,"b5":0.377,"b6":0.537,"b7":0.969},
      {"d":"2012-08-31","b1":0.031,"b2":0.12,"b3":0.24,"b4":0.297,"b5":0.383,"b6":0.539,"b7":0.969},
      {"d":"2012-10-31","b1":0.033,"b2":0.126,"b3":0.246,"b4":0.305,"b5":0.381,"b6":0.543,"b7":0.969}
    ]
  },
  "vconcat": [
    {
      "width": 997,
      "height": 292,
      "title": {"text": "LDPM−L Forecasted Returns (HFRIFWC)", "offset": -1},
      "data": {"name": "ret"},
      "layer": [
        {
          "mark": {"type": "area"},
          "encoding": {
            "x": {
              "field": "d", "type": "temporal",
              "scale": {"type": "utc", "domain": [{"year": 1995, "month": 10, "date": 31, "utc": true}, {"year": 2012, "month": 10, "date": 31, "utc": true}]},
              "axis": {
                "orient": "bottom", "title": null, "tickSize": -9, "labelPadding": 19,
                "values": [{"year": 1997, "month": 7, "date": 1, "utc": true}, {"year": 2000, "month": 1, "date": 1, "utc": true}, {"year": 2002, "month": 7, "date": 1, "utc": true}, {"year": 2005, "month": 1, "date": 1, "utc": true}, {"year": 2007, "month": 7, "date": 1, "utc": true}, {"year": 2010, "month": 1, "date": 1, "utc": true}, {"year": 2012, "month": 7, "date": 1, "utc": true}],
                "labelExpr": "utcFormat(datum.value, '%Y')"
              }
            },
            "y": {
              "field": "lo", "type": "quantitative",
              "scale": {"domain": [-0.15, 0.15], "nice": false, "zero": false},
              "axis": {"orient": "left", "title": "Return", "values": [-0.1, -0.05, 0, 0.05, 0.1, 0.15], "labelExpr": "format(datum.value, '~g')", "tickSize": -9, "labelPadding": 17, "titlePadding": 10}
            },
            "y2": {"field": "hi"},
            "color": {
              "datum": "95% CI", "type": "nominal",
              "scale": {"domain": ["95% CI", "Filter Mean", "HF Index"], "range": ["#b3cce6", "#0000ff", "#ff0000"]},
              "legend": {
                "orient": "top-right", "direction": "horizontal", "title": null, "offset": 11,
                "padding": 7, "strokeColor": "black", "fillColor": "white",
                "symbolSize": 4761, "clipHeight": 24, "symbolType": "stroke", "symbolStrokeWidth": 2.5,
                "labelFont": "Liberation Sans", "labelFontSize": 22, "labelColor": "black", "labelOffset": 7, "columnPadding": 12,
                "encode": {
                  "symbols": {
                    "update": {
                      "shape": {"signal": "datum.value === '95% CI' ? 'square' : 'stroke'"},
                      "fill": {"signal": "datum.value === '95% CI' ? '#b3cce6' : 'transparent'"},
                      "stroke": {"signal": "datum.value === '95% CI' ? 'transparent' : (datum.value === 'Filter Mean' ? '#0000ff' : '#ff0000')"},
                      "strokeDash": {"signal": "datum.value === 'Filter Mean' ? [11, 18] : [1, 0]"},
                      "strokeWidth": {"value": 2.5},
                      "opacity": {"value": 1}
                    }
                  }
                }
              }
            }
          }
        },
        {
          "mark": {"type": "line", "strokeDash": [10, 8], "strokeWidth": 2.5},
          "encoding": {
            "x": {
              "field": "d", "type": "temporal",
              "scale": {"type": "utc", "domain": [{"year": 1995, "month": 10, "date": 31, "utc": true}, {"year": 2012, "month": 10, "date": 31, "utc": true}]},
              "axis": {
                "orient": "top", "title": null, "labels": false, "tickSize": -9, "minExtent": 0, "maxExtent": 0,
                "values": [{"year": 1997, "month": 7, "date": 1, "utc": true}, {"year": 2000, "month": 1, "date": 1, "utc": true}, {"year": 2002, "month": 7, "date": 1, "utc": true}, {"year": 2005, "month": 1, "date": 1, "utc": true}, {"year": 2007, "month": 7, "date": 1, "utc": true}, {"year": 2010, "month": 1, "date": 1, "utc": true}, {"year": 2012, "month": 7, "date": 1, "utc": true}]
              }
            },
            "y": {
              "field": "m", "type": "quantitative",
              "scale": {"domain": [-0.15, 0.15], "nice": false, "zero": false},
              "axis": {"orient": "right", "title": null, "labels": false, "tickSize": -9, "minExtent": 0, "maxExtent": 0, "values": [-0.1, -0.05, 0, 0.05, 0.1, 0.15]}
            },
            "color": {"datum": "Filter Mean", "type": "nominal"}
          }
        },
        {
          "mark": {"type": "line", "strokeWidth": 2.5},
          "encoding": {
            "x": {"field": "d", "type": "temporal", "axis": null},
            "y": {"field": "r", "type": "quantitative", "axis": null},
            "color": {"datum": "HF Index", "type": "nominal"}
          }
        }
      ],
      "resolve": {"axis": {"x": "independent", "y": "independent"}}
    },
    {
      "width": 997,
      "height": 291,
      "view": {"fill": "#780000", "stroke": "black", "strokeWidth": 1.2},
      "title": {"text": "LDPM−L Weights over Time (HFRIFWC)", "offset": 4},
      "data": {"name": "wts"},
      "encoding": {
        "x": {
          "field": "d", "type": "temporal",
          "scale": {"type": "utc", "domain": [{"year": 1995, "month": 10, "date": 31, "utc": true}, {"year": 2012, "month": 10, "date": 31, "utc": true}]},
          "axis": {
            "title": null, "ticks": false, "labelPadding": 10,
            "values": [{"year": 1997, "month": 7, "date": 1, "utc": true}, {"year": 2000, "month": 1, "date": 1, "utc": true}, {"year": 2002, "month": 7, "date": 1, "utc": true}, {"year": 2005, "month": 1, "date": 1, "utc": true}, {"year": 2007, "month": 7, "date": 1, "utc": true}, {"year": 2010, "month": 1, "date": 1, "utc": true}, {"year": 2012, "month": 7, "date": 1, "utc": true}],
            "labelExpr": "utcFormat(datum.value, '%Y')"
          }
        }
      },
      "layer": [
        {
          "mark": {"type": "area", "fill": "#ff1400", "stroke": "black", "strokeWidth": 1},
          "encoding": {
            "y": {"field": "b7", "type": "quantitative", "title": "Weights",
              "scale": {"domain": [0, 1], "nice": false},
              "axis": {"values": [0, 0.2, 0.4, 0.6, 0.8, 1], "labelExpr": "format(datum.value, '~g')", "ticks": false, "labelPadding": 8, "titlePadding": 14}},
            "y2": {"field": "b6"}
          }
        },
        {
          "mark": {"type": "area", "fill": "#ff9f00", "stroke": "black", "strokeWidth": 1},
          "encoding": {"y": {"field": "b6", "type": "quantitative", "title": "Weights"}, "y2": {"field": "b5"}}
        },
        {
          "mark": {"type": "area", "fill": "#cfff30", "stroke": "black", "strokeWidth": 1},
          "encoding": {"y": {"field": "b5", "type": "quantitative", "title": "Weights"}, "y2": {"field": "b4"}}
        },
        {
          "mark": {"type": "area", "fill": "#40ffbf", "stroke": "black", "strokeWidth": 1},
          "encoding": {"y": {"field": "b4", "type": "quantitative", "title": "Weights"}, "y2": {"field": "b3"}}
        },
        {
          "mark": {"type": "area", "fill": "#00b0ff", "stroke": "black", "strokeWidth": 1},
          "encoding": {"y": {"field": "b3", "type": "quantitative", "title": "Weights"}, "y2": {"field": "b2"}}
        },
        {
          "mark": {"type": "area", "fill": "#0020ff", "stroke": "black", "strokeWidth": 1},
          "encoding": {"y": {"field": "b2", "type": "quantitative", "title": "Weights"}, "y2": {"field": "b1"}}
        },
        {
          "mark": {"type": "area", "fill": "#00008c", "stroke": "black", "strokeWidth": 1},
          "encoding": {"y": {"field": "b1", "type": "quantitative", "title": "Weights"}}
        }
      ]
    }
  ]
}
